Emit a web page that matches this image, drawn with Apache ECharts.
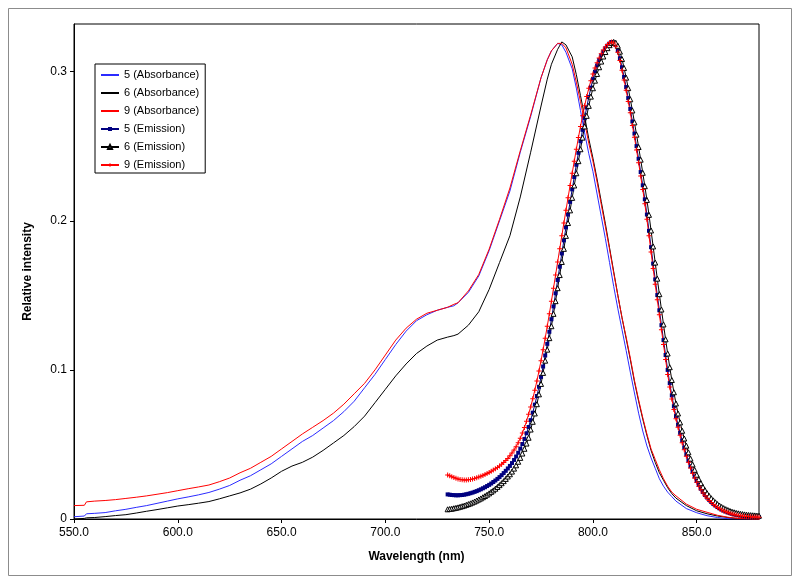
<!DOCTYPE html>
<html>
<head>
<meta charset="utf-8">
<script src="https://cdn.jsdelivr.net/npm/echarts@6/dist/echarts.min.js"></script>
<style>
  html, body { margin: 0; padding: 0; background: #fff; }
  #chart { width: 800px; height: 583px; }
</style>
</head>
<body>
<div id="chart"></div>
<script>
// absorbance spectra (nm -> relative intensity)
const absX = [550, 555, 556, 560, 565, 570, 575, 580, 585, 590, 595, 600, 605, 610, 615, 620, 625, 630, 635, 640,
  645, 650, 655, 660, 665, 670, 675, 680, 685, 690, 695, 700, 705, 710, 715, 720, 725, 730, 733, 735,
  740, 745, 750, 755, 760, 765, 770, 775, 778, 780, 783, 785, 787, 790, 792, 794, 796, 798, 800, 802,
  804, 806, 808, 810, 812, 814, 816, 818, 820, 822, 824, 826, 828, 830, 832, 834, 836, 838, 840, 845,
  850, 855, 860, 865, 870, 875, 880];

const abs5 = [.0015, .0020, .0035, .0038, .0043, .0055, .0065, .0078, .0090, .0105, .0120, .0135, .0148, .0162, .0178, .0200, .0225, .0260, .0290, .0330,
  .0370, .0420, .0470, .0520, .0560, .0610, .0660, .0720, .0790, .0880, .0970, .1070, .1170, .1260, .1330, .1370, .1400, .1420, .1430, .1450,
  .1520, .1630, .1800, .2000, .2200, .2460, .2700, .2960, .3080, .3140, .3190, .3180, .3130, .3020, .2890, .2740, .2590, .2450, .2330, .2180,
  .2030, .1880, .1720, .1560, .1410, .1270, .1130, .0985, .0845, .0710, .0590, .0490, .0410, .0340, .0270, .0220, .0180, .0150, .0120, .0070,
  .0042, .0022, .0010, .0002, 0, 0, 0];

const abs6 = [0, .0004, .0008, .0010, .0016, .0023, .0029, .0040, .0052, .0063, .0075, .0087, .0096, .0106, .0117, .0135, .0155, .0175, .0200, .0235,
  .0275, .0320, .0355, .0380, .0415, .0460, .0510, .0560, .0620, .0690, .0780, .0870, .0960, .1040, .1110, .1160, .1200, .1220, .1230, .1240,
  .1300, .1390, .1540, .1720, .1900, .2160, .2460, .2770, .2950, .3050, .3150, .3200, .3180, .3100, .2980, .2840, .2700, .2550, .2420, .2280,
  .2130, .1980, .1820, .1660, .1500, .1350, .1210, .1070, .0920, .0790, .0670, .0560, .0460, .0380, .0310, .0260, .0210, .0170, .0140, .0090,
  .0055, .0035, .0020, .0010, .0003, 0, 0];

const abs9 = [.0090, .0092, .0115, .0120, .0124, .0130, .0138, .0146, .0155, .0166, .0177, .0190, .0203, .0215, .0228, .0250, .0275, .0310, .0340, .0380,
  .0420, .0470, .0520, .0570, .0615, .0660, .0710, .0770, .0840, .0910, .1000, .1100, .1200, .1280, .1340, .1380, .1400, .1420, .1440, .1450,
  .1530, .1640, .1810, .2010, .2220, .2470, .2710, .2960, .3080, .3140, .3190, .3190, .3160, .3050, .2930, .2800, .2660, .2520, .2400, .2260,
  .2110, .1960, .1810, .1650, .1500, .1350, .1220, .1080, .0930, .0800, .0680, .0570, .0470, .0400, .0330, .0270, .0220, .0180, .0155, .0100,
  .0065, .0045, .0025, .0012, .0003, 0, 0];

// emission spectra, one value per nm from 730 to 880
const emStart = 730;
const em5 = [
  .0165, .0163, .0161, .0160, .0159, .0159, .0160, .0161, .0163, .0166,
  .0169, .0173, .0177, .0182, .0187, .0193, .0199, .0206, .0213, .0221,
  .0229, .0238, .0248, .0258, .0269, .0281, .0294, .0308, .0323, .0339,
  .0356, .0375, .0396, .0419, .0444, .0472, .0503, .0537, .0575, .0617,
  .0663, .0713, .0767, .0825, .0887, .0953, .1023, .1097, .1175, .1256,
  .1340, .1426, .1514, .1603, .1692, .1781, .1869, .1956, .2042, .2127,
  .2211, .2294, .2376, .2456, .2534, .2610, .2690, .2760, .2830, .2893,
  .2950, .3000, .3042, .3078, .3108, .3134, .3157, .3175, .3189, .3199,
  .3196, .3178, .3142, .3090, .3030, .2965, .2897, .2823, .2750, .2666,
  .2585, .2501, .2416, .2327, .2238, .2144, .2042, .1933, .1823, .1713,
  .1607, .1502, .1400, .1300, .1200, .1100, .1000, .0911, .0829, .0756,
  .0690, .0632, .0578, .0527, .0479, .0434, .0392, .0353, .0318, .0285,
  .0255, .0228, .0203, .0181, .0161, .0144, .0128, .0114, .0101, .0090,
  .0080, .0071, .0063, .0056, .0050, .0044, .0039, .0035, .0031, .0028,
  .0025, .0023, .0021, .0019, .0018, .0017, .0016, .0015, .0014, .0014,
  .0013];
const em6 = [
  .0065, .0067, .0069, .0072, .0075, .0078, .0082, .0086, .0090, .0095,
  .0100, .0105, .0111, .0117, .0124, .0131, .0138, .0146, .0154, .0163,
  .0172, .0182, .0192, .0203, .0215, .0227, .0240, .0254, .0269, .0285,
  .0300, .0318, .0338, .0360, .0384, .0410, .0439, .0471, .0506, .0545,
  .0600, .0652, .0708, .0770, .0836, .0906, .0980, .1062, .1136, .1213,
  .1293, .1376, .1461, .1548, .1636, .1724, .1812, .1899, .1985, .2070,
  .2154, .2237, .2319, .2400, .2480, .2558, .2633, .2704, .2771, .2833,
  .2889, .2940, .2985, .3030, .3068, .3102, .3132, .3158, .3178, .3192,
  .3200, .3194, .3174, .3135, .3085, .3025, .2960, .2890, .2815, .2740,
  .2660, .2578, .2495, .2410, .2322, .2232, .2140, .2040, .1935, .1828,
  .1720, .1612, .1508, .1405, .1305, .1205, .1110, .1018, .0932, .0850,
  .0775, .0708, .0648, .0592, .0540, .0492, .0447, .0405, .0366, .0330,
  .0297, .0267, .0240, .0215, .0193, .0173, .0155, .0139, .0125, .0112,
  .0100, .0090, .0081, .0073, .0066, .0060, .0054, .0049, .0045, .0041,
  .0038, .0035, .0033, .0031, .0029, .0027, .0026, .0025, .0024, .0023,
  .0022];
const em9 = [
  .0295, .0290, .0284, .0278, .0273, .0268, .0265, .0263, .0262, .0262,
  .0263, .0265, .0268, .0272, .0276, .0281, .0286, .0292, .0298, .0305,
  .0312, .0320, .0328, .0337, .0346, .0356, .0367, .0379, .0392, .0406,
  .0425, .0443, .0463, .0485, .0512, .0542, .0576, .0614, .0656, .0702,
  .0752, .0806, .0864, .0926, .0992, .1062, .1136, .1213, .1293, .1376,
  .1461, .1548, .1636, .1724, .1812, .1899, .1985, .2070, .2154, .2237,
  .2319, .2400, .2480, .2558, .2633, .2704, .2771, .2833, .2889, .2940,
  .2985, .3025, .3060, .3092, .3120, .3145, .3166, .3182, .3194, .3200,
  .3193, .3170, .3130, .3075, .3010, .2945, .2875, .2800, .2725, .2640,
  .2560, .2475, .2390, .2300, .2210, .2115, .2010, .1900, .1790, .1680,
  .1575, .1470, .1370, .1270, .1170, .1070, .0970, .0885, .0805, .0735,
  .0672, .0615, .0562, .0512, .0465, .0421, .0380, .0342, .0307, .0275,
  .0246, .0220, .0196, .0175, .0156, .0139, .0124, .0110, .0098, .0087,
  .0077, .0069, .0061, .0054, .0048, .0043, .0038, .0034, .0030, .0027,
  .0024, .0022, .0020, .0018, .0017, .0016, .0015, .0014, .0013, .0013,
  .0012];

const xTicks = [550, 600, 650, 700, 750, 800, 850];
const yTicks = [0, 0.1, 0.2, 0.3];
const seriesNames = ['5 (Absorbance)', '6 (Absorbance)', '9 (Absorbance)', '5 (Emission)', '6 (Emission)', '9 (Emission)'];

const FONT = '"Liberation Sans", Arial, sans-serif';

const absPairs = vals => vals.map((v, i) => [absX[i], v]);
const emPairs = vals => vals.map((v, i) => [emStart + i, v]);

const plus = 'path://M4,0h2v4h4v2h-4v4h-2v-4h-4v-2h4z';

const chart = echarts.init(document.getElementById('chart'));

chart.setOption({
  animation: false,
  backgroundColor: '#fff',
  textStyle: { fontFamily: FONT },
  graphic: [{
    type: 'rect',
    shape: { x: 8.5, y: 8.5, width: 783, height: 567 },
    style: { fill: 'none', stroke: '#8c8c8c', lineWidth: 1 },
    silent: true
  }],
  grid: {
    left: 74, top: 24, right: 41, bottom: 64,
    show: true, borderColor: '#000', borderWidth: 1, backgroundColor: '#fff'
  },
  legend: {
    orient: 'vertical',
    left: 95, top: 64,
    padding: [4, 6, 1, 5],
    itemGap: 4,
    itemWidth: 18,
    itemHeight: 5,
    borderColor: '#000',
    borderWidth: 1,
    backgroundColor: '#fff',
    // absorbance entries show only the line, emission entries keep their marker
    data: seriesNames.map((n, i) => (i < 3 ? { name: n, itemStyle: { opacity: 0 } } : { name: n })),
    textStyle: { fontFamily: FONT, fontSize: 11, color: '#000', lineHeight: 14 }
  },
  xAxis: {
    type: 'value',
    min: 550, max: 880,
    name: 'Wavelength (nm)',
    nameLocation: 'middle',
    nameGap: 32,
    nameTextStyle: { fontFamily: FONT, fontSize: 12, fontWeight: 'bold', color: '#000' },
    axisLine: { lineStyle: { color: '#000' } },
    axisTick: { show: true, length: 4, lineStyle: { color: '#000' }, customValues: xTicks },
    axisLabel: {
      customValues: xTicks, margin: 8,
      fontFamily: FONT, fontSize: 12, color: '#000',
      formatter: v => v.toFixed(1)
    },
    splitLine: { show: false }
  },
  yAxis: {
    type: 'value',
    min: 0, max: 0.332,
    name: 'Relative intensity',
    nameLocation: 'middle',
    nameGap: 40,
    nameRotate: 90,
    nameTextStyle: { fontFamily: FONT, fontSize: 12, fontWeight: 'bold', color: '#000' },
    axisLine: { show: true, lineStyle: { color: '#000' } },
    axisTick: { show: true, length: 4, lineStyle: { color: '#000' }, customValues: yTicks },
    axisLabel: {
      customValues: yTicks, margin: 7,
      fontFamily: FONT, fontSize: 12, color: '#000',
      formatter: v => (v === 0 ? '0' : v.toFixed(1))
    },
    splitLine: { show: false }
  },
  series: [
    {
      name: seriesNames[0], type: 'line', data: absPairs(abs5), symbol: 'none',
      lineStyle: { color: '#2b2bff', width: 1 }, itemStyle: { color: '#2b2bff' }
    },
    {
      name: seriesNames[1], type: 'line', data: absPairs(abs6), symbol: 'none',
      lineStyle: { color: '#000', width: 1 }, itemStyle: { color: '#000' }
    },
    {
      name: seriesNames[2], type: 'line', data: absPairs(abs9), symbol: 'none',
      lineStyle: { color: '#ff0000', width: 1 }, itemStyle: { color: '#ff0000' }
    },
    {
      name: seriesNames[3], type: 'line', data: emPairs(em5),
      symbol: 'rect', symbolSize: 4,
      lineStyle: { color: '#000080', width: 1 }, itemStyle: { color: '#000080' }
    },
    {
      name: seriesNames[4], type: 'line', data: emPairs(em6),
      symbol: 'triangle', symbolSize: 5,
      lineStyle: { color: '#000', width: 1 },
      itemStyle: { color: '#fff', borderColor: '#000', borderWidth: 1 }
    },
    {
      name: seriesNames[5], type: 'line', data: emPairs(em9),
      symbol: plus, symbolSize: 5,
      lineStyle: { color: '#ff0000', width: 1 }, itemStyle: { color: '#ff0000' }
    }
  ]
});
</script>
</body>
</html>
